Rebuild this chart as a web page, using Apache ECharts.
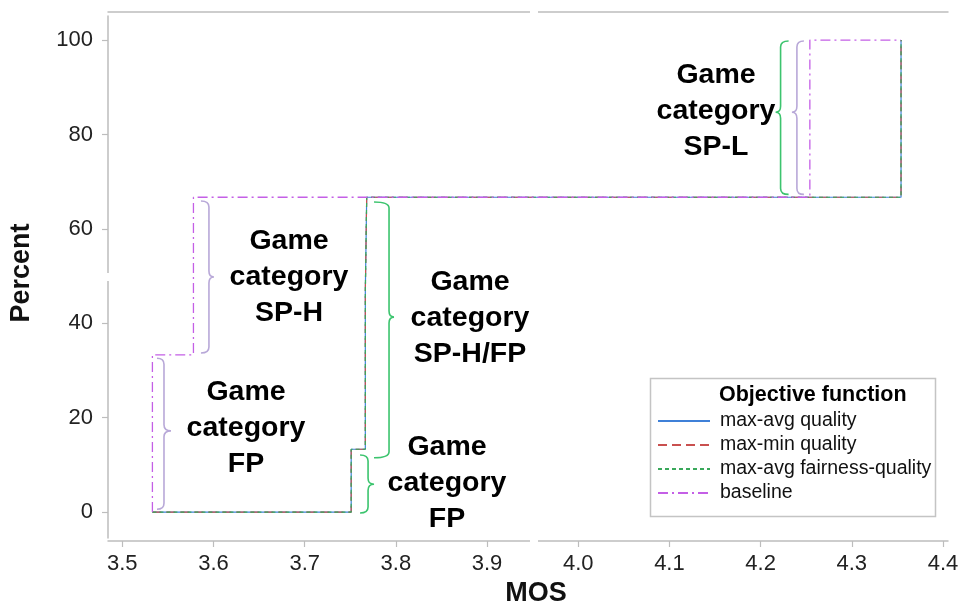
<!DOCTYPE html>
<html>
<head>
<meta charset="utf-8">
<script src="https://cdn.jsdelivr.net/npm/echarts@6/dist/echarts.min.js"></script>
<style>
  html, body { margin: 0; padding: 0; background: #ffffff; }
  #chart { width: 964px; height: 611px; }
</style>
</head>
<body>
<div id="chart"></div>
<script>
// Tick labels
const mosTicks = [3.5, 3.6, 3.7, 3.8, 3.9, 4.0, 4.1, 4.2, 4.3, 4.4];
const percentTicks = [0, 20, 40, 60, 80, 100];

// Step curves: MOS where each step happens, and the cumulative percent reached there
const mosMaxAvgQuality = [3.533, 3.751, 3.7665, 3.768, 4.354];
const pctMaxAvgQuality = [0, 13.3, 46.7, 66.7, 100];
const mosMaxMinQuality = [3.533, 3.751, 3.7665, 3.768, 4.354];
const pctMaxMinQuality = [0, 13.3, 46.7, 66.7, 100];
const mosMaxAvgFairness = [3.533, 3.751, 3.7665, 3.768, 4.354];
const pctMaxAvgFairness = [0, 13.3, 46.7, 66.7, 100];
const mosBaseline = [3.533, 3.533, 3.578, 4.254, 4.354];
const pctBaseline = [0, 33.3, 66.7, 100, 100];

// Curly braces marking game categories: spine MOS, top %, bottom %, tip %
const braceMos = [4.2219, 4.2398, 3.595, 3.5457, 3.7925, 3.7695];
const braceTop = [99.8, 99.8, 65.9, 32.6, 65.7, 12.1];
const braceBottom = [67.3, 67.3, 33.7, 0.6, 11.5, -0.2];
const braceMid = [84.7, 84.7, 49.8, 17.2, 41.3, 5.9];

const seriesNames = ['max-avg quality', 'max-min quality', 'max-avg fairness-quality', 'baseline'];

const FONT = '"Liberation Sans", Arial, Helvetica, sans-serif';
const AXIS_GRAY = '#bdbdbd';

// brace look: which way the ends curl (-1 left, +1 right), end width, tip width, colour
const braceStyle = [
  { side: 1, end: 8, tip: 5, color: '#3cc46e' },
  { side: 1, end: 7, tip: 5, color: '#b8a8d8' },
  { side: -1, end: 8, tip: 5, color: '#b8a8d8' },
  { side: -1, end: 7, tip: 7, color: '#b8a8d8' },
  { side: -1, end: 15, tip: 5, color: '#3cc46e' },
  { side: -1, end: 8, tip: 6, color: '#3cc46e' }
];

function pairs(xs, ys) {
  return xs.map((x, i) => [x, ys[i]]);
}

function stepSeries(name, xs, ys, color, dash, width, z) {
  return {
    name: name,
    type: 'line',
    step: 'end',
    data: pairs(xs, ys),
    symbol: 'none',
    showSymbol: false,
    z: z,
    color: color,
    lineStyle: { color: color, width: width, type: dash },
    itemStyle: { color: color },
    emphasis: { disabled: true }
  };
}

const braceData = braceMos.map((x, i) => [x, braceTop[i], braceBottom[i], braceMid[i]]);

function renderBrace(params, api) {
  const st = braceStyle[params.dataIndex];
  const top = api.coord([api.value(0), api.value(1)]);
  const bot = api.coord([api.value(0), api.value(2)]);
  const mid = api.coord([api.value(0), api.value(3)]);
  const sx = top[0];
  const ty = top[1], by = bot[1], my = mid[1];
  const e = st.side * st.end;
  const p = -st.side * st.tip;
  const r = 6;
  const d = [
    'M', sx + e, ty,
    'Q', sx, ty, sx, ty + r,
    'L', sx, my - r,
    'Q', sx, my, sx + p, my,
    'Q', sx, my, sx, my + r,
    'L', sx, by - r,
    'Q', sx, by, sx + e, by
  ].join(' ');
  return {
    type: 'path',
    shape: { pathData: d },
    style: { stroke: st.color, fill: 'none', lineWidth: 1.6 }
  };
}

function categoryLabel(text, x, y) {
  return {
    type: 'text',
    x: x,
    y: y,
    z: 50,
    style: {
      text: text,
      align: 'center',
      verticalAlign: 'middle',
      fontSize: 28.5,
      fontWeight: 'bold',
      fontFamily: FONT,
      lineHeight: 36,
      fill: '#000000'
    }
  };
}

const chart = echarts.init(document.getElementById('chart'), null, { renderer: 'canvas' });

const option = {
  animation: false,
  backgroundColor: '#ffffff',
  grid: { left: 108, right: 16, top: 16, bottom: 73, containLabel: false },
  xAxis: [
    {
      type: 'value',
      min: 3.4843,
      max: 4.4055,
      offset: 3,
      axisLine: { show: true, onZero: false, lineStyle: { color: AXIS_GRAY, width: 1.5 } },
      axisTick: { show: true, length: 6, lineStyle: { color: AXIS_GRAY, width: 1.2 }, customValues: mosTicks },
      axisLabel: {
        customValues: mosTicks,
        formatter: v => v.toFixed(1),
        fontSize: 22,
        color: '#222222',
        fontFamily: FONT,
        margin: 12
      },
      splitLine: { show: false }
    },
    {
      type: 'value',
      position: 'top',
      min: 3.4843,
      max: 4.4055,
      offset: 4,
      axisLine: { show: true, onZero: false, lineStyle: { color: AXIS_GRAY, width: 1.5 } },
      axisTick: { show: false },
      axisLabel: { show: false },
      splitLine: { show: false }
    }
  ],
  yAxis: {
    type: 'value',
    min: -5.5,
    max: 105.1,
    axisLine: { show: true, onZero: false, lineStyle: { color: AXIS_GRAY, width: 1.5 } },
    axisTick: { show: true, length: 6, lineStyle: { color: AXIS_GRAY, width: 1.2 }, customValues: percentTicks },
    axisLabel: {
      customValues: percentTicks,
      fontSize: 22,
      color: '#222222',
      fontFamily: FONT,
      margin: 15
    },
    splitLine: { show: false }
  },
  legend: {
    data: seriesNames,
    orient: 'vertical',
    left: 657,
    top: 411,
    padding: 0,
    itemWidth: 52,
    itemHeight: 14,
    itemGap: 4,
    selectedMode: false,
    itemStyle: { opacity: 0 },
    textStyle: {
      fontSize: 19.5,
      lineHeight: 18,
      color: '#111111',
      fontFamily: FONT,
      padding: [0, 0, 0, 5]
    }
  },
  series: [
    stepSeries(seriesNames[0], mosMaxAvgQuality, pctMaxAvgQuality, '#3f80d8', 'solid', 1.2, 3),
    stepSeries(seriesNames[1], mosMaxMinQuality, pctMaxMinQuality, '#c9504f', [9, 5], 1.2, 4),
    stepSeries(seriesNames[2], mosMaxAvgFairness, pctMaxAvgFairness, '#39a85a', [4, 3], 1.2, 5),
    stepSeries(seriesNames[3], mosBaseline, pctBaseline, '#c45fe6', [10, 4, 2, 4], 1.3, 6),
    {
      name: 'braces',
      type: 'custom',
      data: braceData,
      encode: { x: 0, y: [1, 2, 3] },
      renderItem: renderBrace,
      z: 2,
      silent: true
    }
  ],
  graphic: [
    // breaks in the frame lines
    { type: 'rect', z: 100, shape: { x: 530, y: 8, width: 8, height: 8 }, style: { fill: '#ffffff' } },
    { type: 'rect', z: 100, shape: { x: 530, y: 537, width: 8, height: 9 }, style: { fill: '#ffffff' } },
    { type: 'rect', z: 100, shape: { x: 104, y: 273, width: 8, height: 8 }, style: { fill: '#ffffff' } },
    // axis titles
    {
      type: 'text', x: 536, y: 594, z: 50,
      style: { text: 'MOS', align: 'center', verticalAlign: 'middle', fontSize: 27, fontWeight: 'bold', fontFamily: FONT, fill: '#111111' }
    },
    {
      type: 'text', x: 22, y: 273, rotation: Math.PI / 2, z: 50,
      style: { text: 'Percent', align: 'center', verticalAlign: 'middle', fontSize: 27, fontWeight: 'bold', fontFamily: FONT, fill: '#111111' }
    },
    // legend frame and heading
    {
      type: 'rect', z: 1,
      shape: { x: 650.5, y: 378.5, width: 285, height: 138 },
      style: { fill: 'none', stroke: '#c4c4c4', lineWidth: 1.5 }
    },
    {
      type: 'text', x: 719, y: 395, z: 50,
      style: { text: 'Objective function', align: 'left', verticalAlign: 'middle', fontSize: 21.5, fontWeight: 'bold', fontFamily: FONT, fill: '#000000' }
    },
    // game category annotations
    categoryLabel('Game\ncategory\nSP-L', 716, 111),
    categoryLabel('Game\ncategory\nSP-H', 289, 277),
    categoryLabel('Game\ncategory\nSP-H/FP', 470, 318),
    categoryLabel('Game\ncategory\nFP', 246, 428),
    categoryLabel('Game\ncategory\nFP', 447, 483)
  ]
};

chart.setOption(option);
</script>
</body>
</html>
